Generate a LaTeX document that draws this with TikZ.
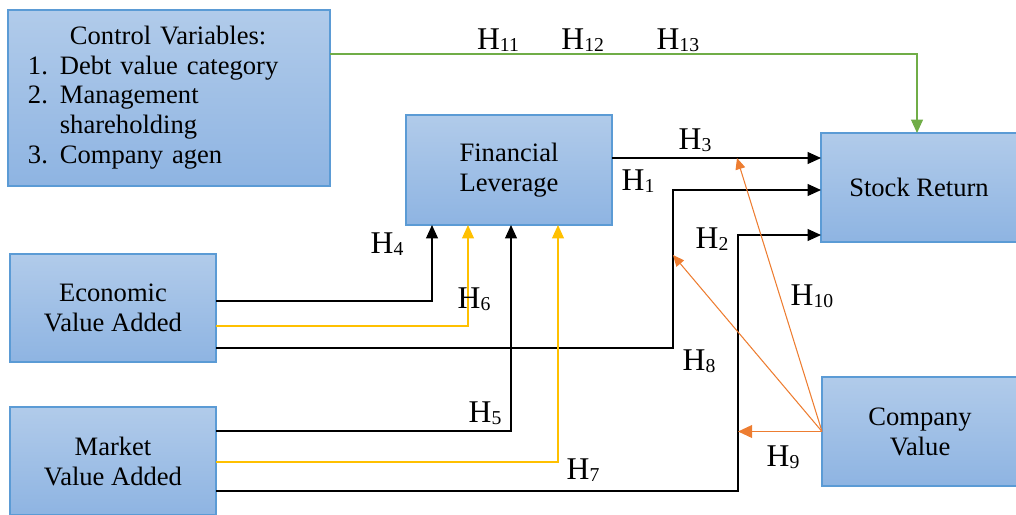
\documentclass[tikz,border=0pt]{standalone}
\usepackage{fontspec}
\setmainfont{Liberation Serif}
\usepackage{xcolor}
\usepackage{tikz}
\usetikzlibrary{arrows.meta, positioning, calc}

\definecolor{boxtop}{HTML}{B1CBEA}
\definecolor{boxbot}{HTML}{8EB4E2}
\definecolor{boxline}{HTML}{5B9BD5}
\definecolor{hyporange}{HTML}{ED7D31}
\definecolor{hypyellow}{HTML}{FFC000}
\definecolor{hypgreen}{HTML}{70AD47}
\newcommand{\hyp}[1]{H\raisebox{-1.5pt}{\fontsize{14}{14}\selectfont #1}}

\begin{document}
\begin{tikzpicture}[
      x=0.025cm, y=-0.025cm,
      box/.style={rectangle, draw=boxline, line width=0.8pt, top color=boxtop, bottom color=boxbot,
        align=center, inner sep=0pt, outer sep=0pt, font=\fontsize{18.9}{21.3}\selectfont},
      lbl/.style={inner sep=0pt, font=\fontsize{22.5}{24}\selectfont},
      arr/.style={line width=0.75pt, -{Triangle[length=9.5pt, width=8.5pt]}},
      oarr/.style={line width=0.75pt, color=hyporange, -{Triangle[length=8pt, width=7pt]}}
    ]
      \useasboundingbox (0,0) rectangle (1016,514);

      % variables
      \node[box, minimum width=8.05cm, minimum height=4.4cm, text width=7.05cm, align=left] (ctrl) at (169,98)
        {\begin{tabular}{@{}l@{\hspace{0.3cm}}l@{}}
          \multicolumn{2}{@{\hspace{1.05cm}}l@{}}{Control Variables:}\\
          1. & Debt value category\\
          2. & Management\\
             & shareholding\\
          3. & Company agen
        \end{tabular}};
      \node[box, minimum width=5.15cm, minimum height=2.75cm] (fl) at (509,170) {Financial\\Leverage};
      \node[box, minimum width=4.9cm, minimum height=2.725cm] (sr) at (919,187.5) {Stock Return};
      \node[box, minimum width=5.15cm, minimum height=2.7cm] (eva) at (113,308) {Economic\\Value Added};
      \node[box, minimum width=5.15cm, minimum height=2.7cm] (mva) at (113,461) {Market\\Value Added};
      \node[box, minimum width=4.9cm, minimum height=2.725cm] (cv) at (920,431.5) {Company\\Value};

      \coordinate (j1) at (673,190);
      \coordinate (j2) at (738,235);
      \coordinate (h8e) at (673,255);
      \coordinate (h10e) at (737,158);

      % connectors
      \draw[line width=0.75pt, color=hypgreen, -{Triangle[length=9.5pt, width=8.5pt]}]
        ($(ctrl.east)+(0,-44)$) -| ($(sr.north)+(-2,0)$);
      \draw[arr] ($(fl.east)+(0,-12)$) coordinate (h3s) -- (h3s -| sr.west);
      \draw[arr] ($(eva.east)+(0,40)$) -| (j1) -- (j1 -| sr.west);
      \draw[arr] ($(mva.east)+(0,30)$) -| (j2) -- (j2 -| sr.west);
      \draw[arr] ($(eva.east)+(0,-7)$) -| ($(fl.south)+(-77,0)$);
      \draw[arr, color=hypyellow] ($(eva.east)+(0,18)$) -| ($(fl.south)+(-41,0)$);
      \draw[arr] ($(mva.east)+(0,-30)$) -| ($(fl.south)+(2,0)$);
      \draw[arr, color=hypyellow] ($(mva.east)+(0,1)$) -| ($(fl.south)+(49,0)$);
      \draw[oarr] (cv.west) -- (h8e);
      \draw[oarr] (cv.west) -- (h10e);
      \draw[oarr, line width=1.3pt, -{Triangle[length=10pt, width=9pt]}] (cv.west) -- (cv.west -| j2);

      % labels
      \node[lbl] (h11) at (498,40) {\hyp{11}};
      \node[lbl, right=1.05cm of h11] (h12) {\hyp{12}};
      \node[lbl, right=1.3cm of h12] (h13) {\hyp{13}};
      \node[lbl] (h3) at (695,140) {\hyp{3}};
      \node[lbl] (h1) at (638,181) {\hyp{1}};
      \node[lbl] (h2) at (712,239) {\hyp{2}};
      \node[lbl] (h10) at (812,296) {\hyp{10}};
      \node[lbl] (h4) at (387,244) {\hyp{4}};
      \node[lbl] (h6) at (474,299) {\hyp{6}};
      \node[lbl] (h5) at (485,413) {\hyp{5}};
      \node[lbl] (h7) at (583,470) {\hyp{7}};
      \node[lbl] (h8) at (699,361) {\hyp{8}};
      \node[lbl] (h9) at (783,457) {\hyp{9}};
    \end{tikzpicture}
\end{document}
